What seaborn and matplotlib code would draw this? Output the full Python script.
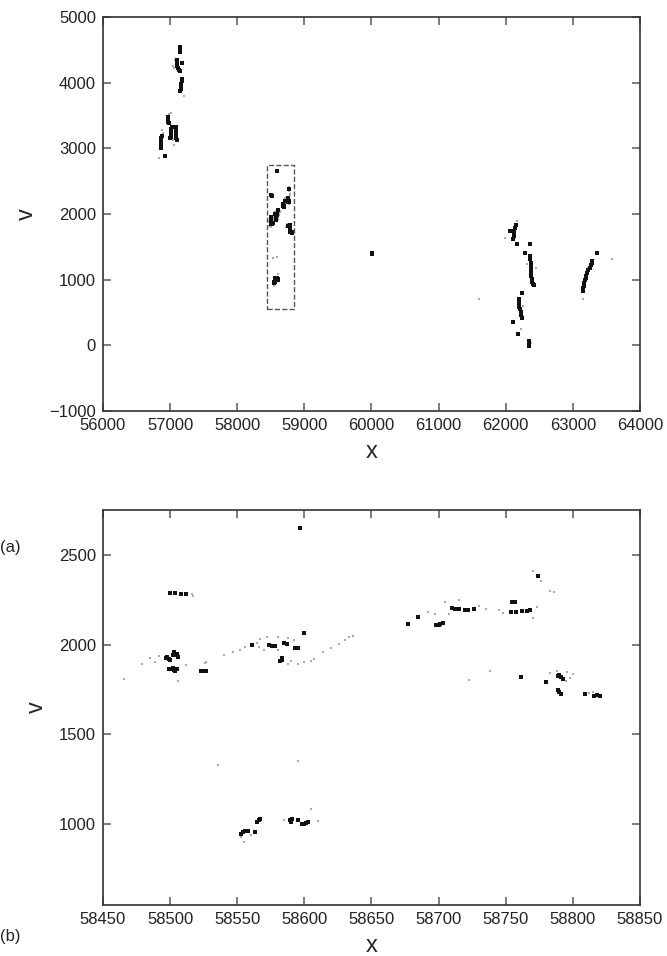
#!/usr/bin/env python3

import pandas as pd
import seaborn as sns
from matplotlib import pyplot as plt
from matplotlib.patches import Rectangle

# --- panel (a): clusters outside the zoom box ---
wide_dense_x = [57150, 57150, 57145, 57110, 57105, 57110, 57115, 57180, 57125, 57140,
                57175, 57170, 57165, 57160, 57155, 57150,
                56970, 56965, 56975, 56980,
                57025, 57020, 57015, 57015, 57010, 57000,
                57090, 57090, 57085, 57090, 57095, 57100,
                56875, 56870, 56868, 56865, 56860, 56870, 56925,
                62150, 62140, 62130, 62125, 62120, 62115, 62066, 62165, 62364, 62290,
                62365, 62368, 62370, 62375, 62375, 62380, 62382, 62385, 62388, 62400, 62420,
                62240, 62195, 62195, 62200, 62205, 62215, 62225, 62230, 62240, 62190, 62115,
                62340, 62342, 62345, 62350,
                63145, 63150, 63160, 63170, 63180, 63190, 63200, 63215, 63230, 63250, 63270,
                63280, 63285, 63356,
                60010, 60015]
wide_dense_y = [4540, 4500, 4460, 4340, 4300, 4260, 4230, 4300, 4190, 4180,
                4060, 4020, 3980, 3940, 3900, 3870,
                3480, 3440, 3400, 3380,
                3330, 3290, 3250, 3210, 3170, 3150,
                3320, 3280, 3240, 3200, 3160, 3130,
                3190, 3150, 3110, 3070, 3030, 3000, 2880,
                1840, 1790, 1740, 1700, 1660, 1620, 1738, 1536, 1536, 1410,
                1360, 1310, 1260, 1210, 1160, 1110, 1060, 1010, 970, 940, 925,
                800, 710, 670, 630, 590, 550, 500, 460, 410, 170, 355,
                70, 40, 10, -10,
                820, 870, 910, 950, 990, 1030, 1060, 1100, 1140, 1180, 1220,
                1260, 1290, 1410,
                1390, 1410]
wide_faint_x = [57080, 57050, 57060, 57200, 56990, 57010, 56880, 56900, 57040, 56840, 57060,
                61990, 62170, 62453, 62250, 62260, 62230, 62380, 62320,
                63580, 63148, 63220, 63240, 61608]
wide_faint_y = [4350, 4250, 4220, 3800, 3520, 3540, 3280, 3240, 3130, 2850, 3050,
                1640, 1900, 1170, 600, 450, 250, 30, 1240,
                1320, 700, 1170, 1200, 710]

# --- panel (b): detail inside the box ---
box_dense_x = [58500, 58504, 58508, 58512,
               58503, 58505, 58504, 58506, 58502,
               58498, 58499, 58500, 58497,
               58499, 58501, 58503, 58505, 58504, 58502,
               58523, 58525, 58527, 58561,
               58576, 58574, 58578, 58585, 58587, 58593, 58595, 58583, 58583, 58582, 58600,
               58597,
               58677, 58685, 58701, 58700, 58703, 58698,
               58712, 58710, 58715, 58720, 58722, 58726,
               58755, 58757, 58754, 58758, 58762, 58766, 58768, 58774,
               58791, 58789, 58793, 58790, 58780, 58761,
               58790, 58789, 58791, 58820, 58818, 58816, 58809,
               58554, 58556, 58558, 58563, 58553,
               58566, 58567, 58565,
               58589, 58591, 58590, 58595,
               58598, 58601, 58603, 58600]
box_dense_y = [2290, 2287, 2285, 2280,
               1960, 1950, 1940, 1930, 1945,
               1930, 1920, 1912, 1925,
               1862, 1866, 1858, 1864, 1852, 1870,
               1855, 1854, 1856, 1998,
               1994, 1998, 1990, 2007, 2004, 1982, 1981, 1915, 1925, 1908, 2065,
               2652,
               2115, 2152, 2115, 2108, 2120, 2112,
               2198, 2202, 2200, 2195, 2192, 2196,
               2235, 2238, 2180, 2184, 2186, 2189, 2195, 2383,
               1818, 1825, 1810, 1830, 1790, 1818,
               1735, 1745, 1725, 1717, 1722, 1712, 1726,
               957, 960, 963, 957, 945,
               1022, 1030, 1015,
               1026, 1030, 1015, 1022,
               1004, 1008, 1013, 1000]
box_faint_x = [58516, 58517, 58506,
               58466, 58479, 58485, 58492, 58489, 58512, 58526, 58527, 58540, 58547, 58552, 58556,
               58565, 58567, 58572, 58580, 58588, 58592, 58566, 58570, 58580,
               58588, 58595, 58600, 58607, 58614, 58620, 58626, 58630, 58633, 58636, 58590, 58605,
               58536, 58595,
               58692, 58705, 58715, 58730, 58708, 58697, 58735,
               58748, 58773, 58770, 58745,
               58770, 58776, 58783, 58786,
               58783, 58788, 58796, 58800, 58798, 58795,
               58738, 58723, 58812, 58815,
               58553, 58555, 58560, 58605, 58610, 58585]
box_faint_y = [2284, 2272, 1800,
               1810, 1893, 1924, 1935, 1905, 1887, 1898, 1906, 1945, 1960, 1970, 1985,
               2010, 2030, 2042, 2045, 2040, 2025, 1985, 1970, 1968,
               1890, 1895, 1902, 1920, 1957, 1980, 2004, 2025, 2041, 2050, 1909, 1907,
               1328, 1350,
               2180, 2240, 2250, 2215, 2170, 2170, 2200,
               2175, 2210, 2150, 2195,
               2411, 2356, 2300, 2295,
               1840, 1855, 1850, 1835, 1815, 1800,
               1855, 1804, 1730, 1738,
               930, 902, 940, 1087, 1020, 1025]

box_xlim = (58450, 58850)
box_ylim = (550, 2750)


def main():
    sns.set_style("ticks")
    plt.rcParams["font.family"] = ["Liberation Sans", "DejaVu Sans"]
    plt.rcParams["font.size"] = 12

    dense = pd.DataFrame({"x": wide_dense_x + box_dense_x, "v": wide_dense_y + box_dense_y})
    faint = pd.DataFrame({"x": wide_faint_x + box_faint_x, "v": wide_faint_y + box_faint_y})
    box_dense = pd.DataFrame({"x": box_dense_x, "v": box_dense_y})
    box_faint = pd.DataFrame({"x": box_faint_x, "v": box_faint_y})

    fig = plt.figure(figsize=(6.67, 9.56), dpi=100)
    ax1 = fig.add_axes([0.1544, 0.5701, 0.8051, 0.4121])
    ax2 = fig.add_axes([0.1544, 0.0533, 0.8051, 0.4132])

    sns.scatterplot(faint, x="x", y="v", ax=ax1, color="#aaaaaa", s=2, marker="s", linewidth=0)
    sns.scatterplot(dense, x="x", y="v", ax=ax1, color="#111111", s=7, marker="s", linewidth=0)
    ax1.add_patch(Rectangle((box_xlim[0], box_ylim[0]), box_xlim[1] - box_xlim[0],
                            box_ylim[1] - box_ylim[0], fill=False, ls="--", lw=1, ec="#555555"))
    ax1.set_xlim(56000, 64000)
    ax1.set_ylim(-1000, 5000)
    ax1.set_xticks(range(56000, 64001, 1000))
    ax1.set_yticks(range(-1000, 5001, 1000))
    ax1.set_yticklabels(["\u22121000"] + [str(v) for v in range(0, 5001, 1000)])

    sns.scatterplot(box_faint, x="x", y="v", ax=ax2, color="#aaaaaa", s=3, marker="s", linewidth=0)
    sns.scatterplot(box_dense, x="x", y="v", ax=ax2, color="#111111", s=11, marker="s", linewidth=0)
    ax2.set_xlim(*box_xlim)
    ax2.set_ylim(*box_ylim)
    ax2.set_xticks(range(58450, 58851, 50))
    ax2.set_yticks([1000, 1500, 2000, 2500])

    for ax in (ax1, ax2):
        ax.tick_params(direction="in", top=True, right=True, length=6, width=1.2,
                       color="#666666", labelsize=12, labelcolor="#222222", pad=5)
        for sp in ax.spines.values():
            sp.set_color("#333333")
            sp.set_linewidth(1.2)
        ax.set_xlabel("x", fontsize=17, labelpad=6)
        ax.set_ylabel("v", fontsize=17, labelpad=8)

    fig.text(0.0, 0.427, "(a)", fontsize=12, va="center")
    fig.text(0.0, 0.02, "(b)", fontsize=12, va="center")

    fig.savefig("out.png", dpi=100)
    plt.close()


if __name__ == '__main__':
    main()
